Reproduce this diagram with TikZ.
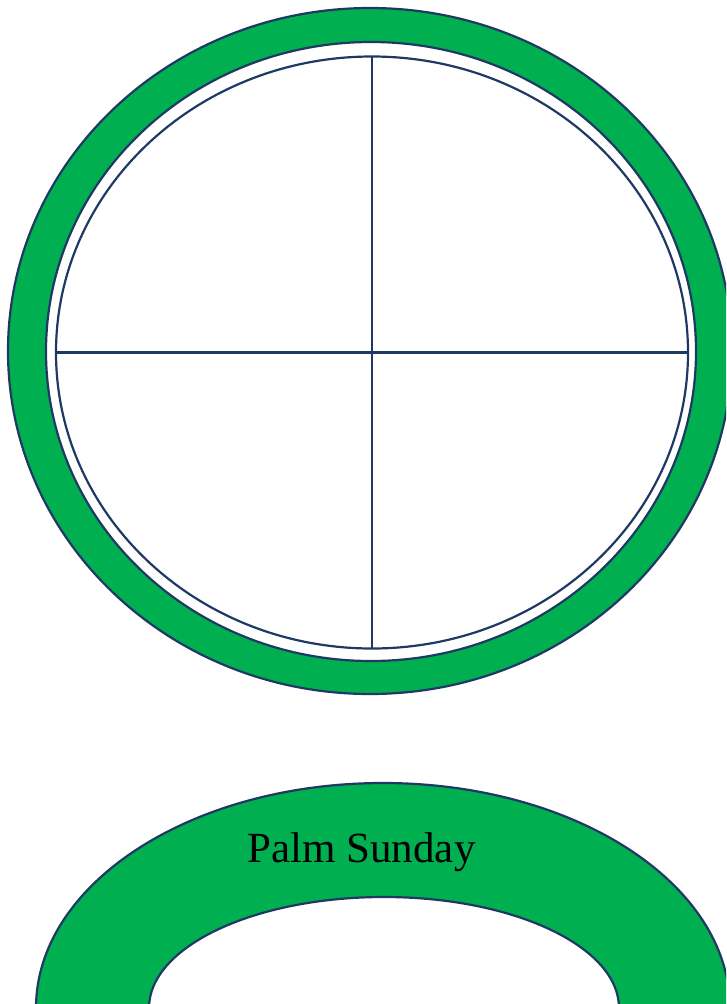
\documentclass[tikz,border=0pt]{standalone}
\usepackage{fontspec}
\setmainfont{Liberation Serif}
\definecolor{ringgreen}{HTML}{00AF50}
\definecolor{navy}{HTML}{1F3864}
\tikzset{
  ring/.style={fill=ringgreen, draw=navy, line width=2.2pt, even odd rule},
  thin/.style={draw=navy, line width=2.2pt},
}
\begin{document}
\begin{tikzpicture}[x=1pt,y=-1pt]
\useasboundingbox (0,0) rectangle (726,1004);
\clip (0,0) rectangle (726,1004);
% top ring
\path[ring] (370,351) ellipse [x radius=362, y radius=343]
            (371,351.5) ellipse [x radius=325, y radius=309.5];
\draw[thin] (372,352.5) ellipse [x radius=316, y radius=296];
\coordinate (top) at (372,56.5);
\coordinate (bot) at (372,648.5);
\coordinate (lft) at (56,352.5);
\coordinate (rgt) at (688,352.5);
\draw[thin] (top) -- (bot);
\draw[thin] (lft) -- (rgt);
% bottom arch
\path[ring] (383,1008) ellipse [x radius=347, y radius=225]
            (384,1008) ellipse [x radius=235, y radius=111];
\node[anchor=base, font=\fontsize{43}{47}\selectfont, inner sep=0pt] (label) at (361.5,862) {Palm Sunday};
\end{tikzpicture}
\end{document}
